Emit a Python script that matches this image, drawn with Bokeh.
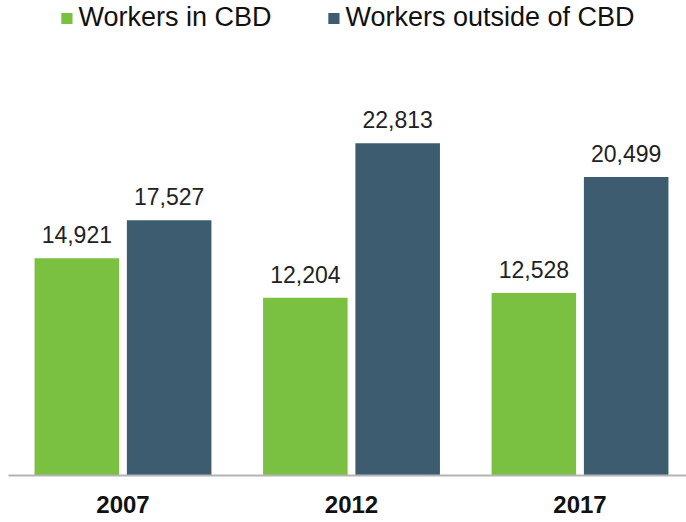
from bokeh.plotting import figure
from bokeh.models import ColumnDataSource, Range1d, FixedTicker, LabelSet, Legend, LegendItem
from bokeh.transform import dodge
from bokeh.core.properties import value
from bokeh.embed import file_html
from bokeh.resources import INLINE

years = ["2007", "2012", "2017"]
in_cbd = [14921, 12204, 12528]
outside_cbd = [17527, 22813, 20499]
series_names = ["Workers in CBD", "Workers outside of CBD"]

GREEN = "#7AC142"
BLUE = "#3D5C70"
FONT = "Liberation Sans"

xs = list(range(len(years)))
src = ColumnDataSource(dict(
    x=xs,
    a=in_cbd,
    b=outside_cbd,
    a_lbl=[f"{v:,}" for v in in_cbd],
    b_lbl=[f"{v:,}" for v in outside_cbd],
))

p = figure(width=686, height=520, output_backend="svg", toolbar_location=None,
           x_range=Range1d(-0.501, 2.466), y_range=Range1d(0, 32620),
           min_border_left=8, min_border_right=0, min_border_top=0, min_border_bottom=45)

off = 0.202
bw = 0.37
ra = p.vbar(x=dodge("x", -off, range=p.x_range), top="a", width=bw, source=src,
            fill_color=GREEN, line_color=None)
rb = p.vbar(x=dodge("x", off, range=p.x_range), top="b", width=bw, source=src,
            fill_color=BLUE, line_color=None)

for col, lbl, o in (("a", "a_lbl", -off), ("b", "b_lbl", off)):
    ls = LabelSet(x=dodge("x", o, range=p.x_range), y=col, text=lbl, source=src,
                  text_align="center", text_baseline="alphabetic", y_offset=15,
                  text_font=value(FONT), text_font_size="23px", text_color="#222222")
    p.add_layout(ls)

p.yaxis.visible = False
p.xgrid.visible = False
p.ygrid.visible = False
p.outline_line_color = None

xa = p.xaxis[0]
xa.ticker = FixedTicker(ticks=xs)
xa.major_label_overrides = {i: y for i, y in zip(xs, years)}
xa.major_tick_line_color = None
xa.minor_tick_line_color = None
xa.major_tick_out = 0
xa.major_tick_in = 0
xa.axis_line_color = "#B4B4B4"
xa.axis_line_width = 2
xa.major_label_standoff = 20
xa.major_label_text_font = FONT
xa.major_label_text_font_size = "24px"
xa.major_label_text_font_style = "bold"
xa.major_label_text_color = "#111111"

legend = Legend(items=[LegendItem(label=series_names[0], renderers=[ra]),
                       LegendItem(label=series_names[1], renderers=[rb])],
                orientation="horizontal", location="top_center",
                label_text_font=FONT, label_text_font_size="27px", label_text_color="#111111",
                glyph_width=14, glyph_height=14, label_standoff=5, spacing=55,
                padding=0, margin=2, border_line_color=None, background_fill_alpha=0)
p.add_layout(legend)

open("out.html", "w").write(file_html(p, INLINE))
